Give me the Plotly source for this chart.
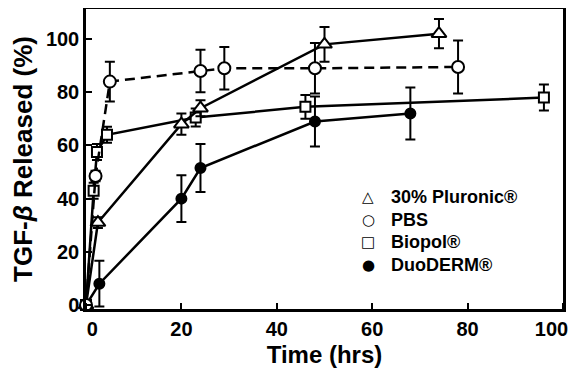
import plotly.graph_objects as go

# ---- data ----
plur_t = [0, 2.5, 20, 24, 50, 74]
plur_v = [0, 31, 68, 74, 98, 102]
plur_e = [0, 2, 4, 3, 6.5, 5.5]

pbs_t = [0, 2, 5, 24, 29, 48, 78]
pbs_v = [0, 48.5, 84, 88, 89, 89, 89.5]
pbs_e = [0, 2, 7.5, 8, 8, 9.5, 10]

bio_t = [0, 1.6, 2.3, 4.4, 23, 46, 96]
bio_v = [0, 43, 57.5, 64, 70.5, 74.5, 78]
bio_e = [0, 3, 3, 3, 3.4, 4.5, 4.9]

duo_t = [0, 2.8, 20, 24, 48, 68]
duo_v = [0, 8, 40, 51.5, 69, 72]
duo_e = [0, 8.6, 8.8, 9, 9.4, 9.8]

x_ticks = [0, 20, 40, 60, 80, 100]
x_tick_text = ["0", "20", "40", "60", "80", "100"]
y_ticks = [0, 20, 40, 60, 80, 100]

legend_names = ["30% Pluronic®", "PBS", "Biopol®", "DuoDERM®"]
legend_syms = ["△", "○", "□", "●"]

FONT = "Liberation Sans"

fig = go.Figure()

def add(t, v, e, symbol, fill, size, dash):
    fig.add_trace(go.Scatter(
        x=t, y=v, mode="lines+markers",
        line=dict(color="black", width=2.5, dash=dash),
        marker=dict(symbol=symbol, size=size, color=fill,
                    line=dict(color="black", width=2)),
        error_y=dict(type="data", array=e, visible=True,
                     color="black", thickness=2, width=5),
        showlegend=False, cliponaxis=False,
    ))

add(bio_t, bio_v, bio_e, "square", "white", 10, "solid")
add(duo_t, duo_v, duo_e, "circle", "black", 10, "solid")
add(plur_t, plur_v, plur_e, "triangle-up", "white", 13, "solid")
add(pbs_t, pbs_v, pbs_e, "circle", "white", 12, "10px,6px")

# The page body has an 8px margin, so the figure is drawn 8px right/down.
OFF = 8
W, H = 578 - OFF, 375 - OFF
L, R, T, B = 86 - OFF, 15, 9 - OFF, 66
pw, ph = W - L - R, H - T - B

# legend drawn as text annotations (positions given in page pixels)
row_y = [197, 220, 242, 265]
for sym, name, py in zip(legend_syms, legend_names, row_y):
    yp = (H + OFF - B - py) / ph
    fig.add_annotation(xref="paper", yref="paper", x=(368 - OFF - L) / pw, y=yp,
                       text=sym, showarrow=False, xanchor="center", yanchor="middle",
                       font=dict(family="DejaVu Sans", size=15, color="black", weight="bold"))
    fig.add_annotation(xref="paper", yref="paper", x=(389 - OFF - L) / pw, y=yp,
                       text=name, showarrow=False, xanchor="left", yanchor="middle",
                       font=dict(family=FONT, size=18, color="black", weight="bold"))

tick_font = dict(family=FONT, size=20, color="black", weight="bold")
axis_common = dict(
    showline=True, linecolor="black", linewidth=2.5, mirror=True,
    showgrid=False, zeroline=False, automargin=False,
    tickfont=tick_font,
)

# x tick marks drawn as (minor) ticks at the round values; the printed labels in
# the reference sit slightly off their ticks at both ends (kept inside the page)
label_shift = [1.3, 0, 0, 0, 0, -2.4]
x_label_pos = [v + s for v, s in zip(x_ticks, label_shift)]

fig.update_xaxes(range=[0, 100], tickmode="array",
                 tickvals=x_label_pos, ticktext=x_tick_text, ticks="",
                 minor=dict(tickmode="array", tickvals=x_ticks, ticks="inside",
                            ticklen=6, tickwidth=2, tickcolor="black", showgrid=False),
                 title=dict(text="Time (hrs)", standoff=8,
                            font=dict(family=FONT, size=24, color="black", weight="bold")),
                 **axis_common)
fig.update_yaxes(range=[-1.5, 111.3], tickvals=y_ticks,
                 ticks="inside", ticklen=6, tickwidth=2, tickcolor="black",
                 title=dict(text="TGF-<i>β</i> Released (%)", standoff=8,
                            font=dict(family=FONT, size=26, color="black", weight="bold")),
                 **axis_common)

fig.update_layout(
    width=W, height=H,
    margin=dict(l=L, r=R, t=T, b=B),
    paper_bgcolor="white", plot_bgcolor="white",
    showlegend=False,
)

fig.write_html("out.html")
